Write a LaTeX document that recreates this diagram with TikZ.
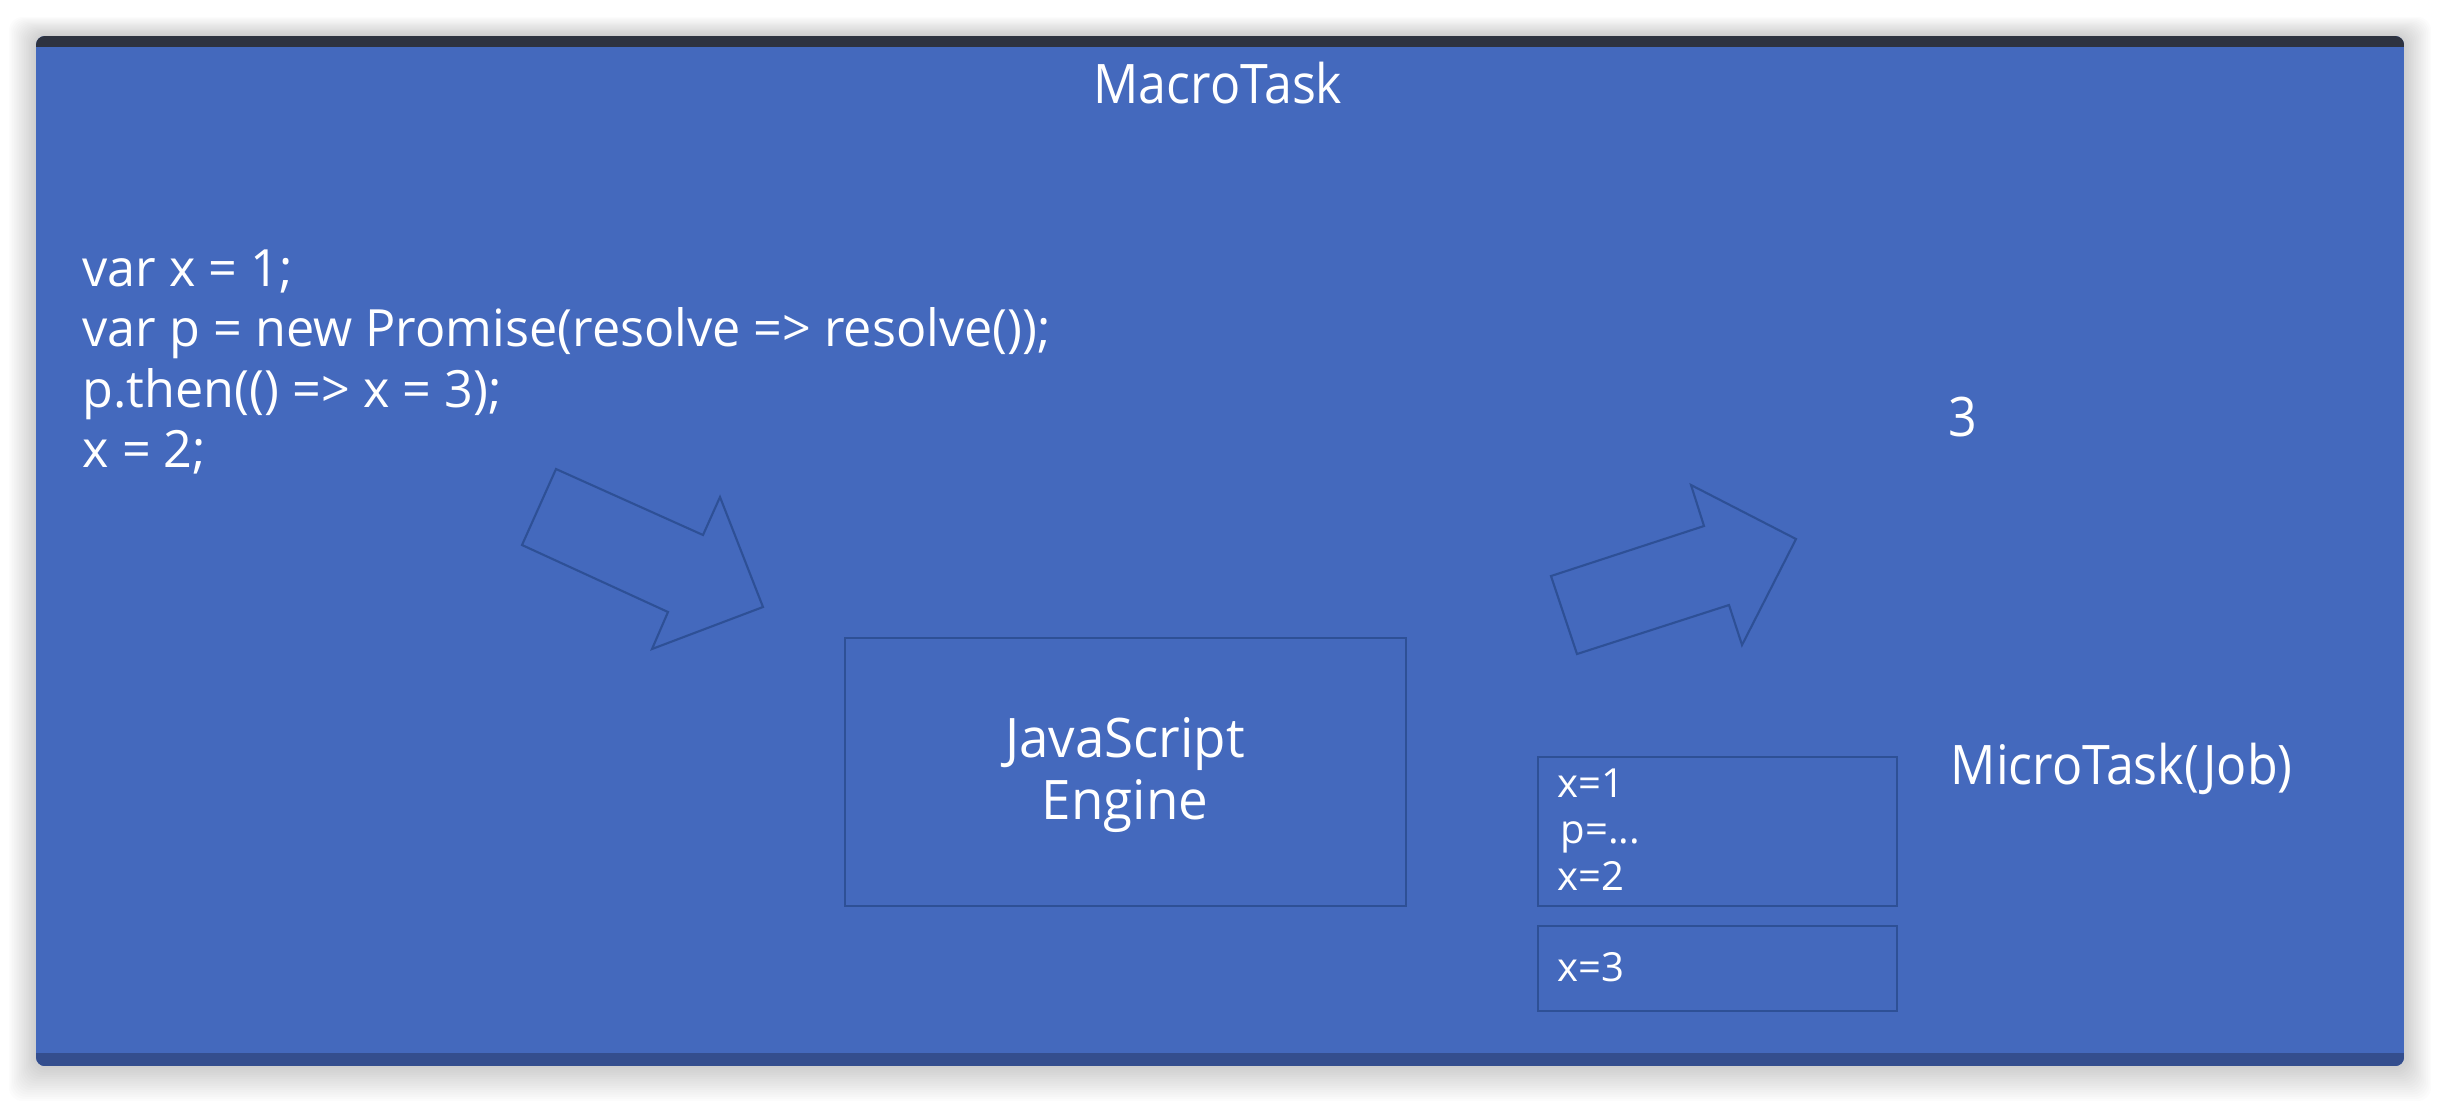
\documentclass[tikz,border=0pt]{standalone}
\usepackage{fontspec}
\setmainfont{Open Sans}
\newfontfamily\codefont[FakeStretch=0.98]{Open Sans}
\newfontfamily\lblfont[FakeStretch=0.92]{Open Sans}
\newfontfamily\engfont[FakeStretch=0.97]{Open Sans}
\newfontfamily\smallfont[FakeStretch=1.0]{Open Sans}
\definecolor{slide}{RGB}{68,105,189}
\definecolor{bandtop}{RGB}{46,51,64}
\definecolor{bandbot}{RGB}{52,78,142}
\definecolor{edge}{RGB}{46,80,150}
\begin{document}
\begin{tikzpicture}[x=0.01cm,y=-0.01cm,
  big/.style={text=white, inner sep=0pt, font=\lblfont\fontsize{15.5}{18}\selectfont},
  engtext/.style={text=white, inner sep=0pt, anchor=base, font=\engfont\fontsize{15.5}{18}\selectfont},
  codeline/.style={text=white, inner sep=0pt, anchor=base west, font=\codefont\fontsize{14.6}{17}\selectfont},
  small/.style={text=white, inner sep=0pt, anchor=base west, font=\smallfont\fontsize{11.4}{13}\selectfont},
  outline/.style={draw=edge, line width=0.6pt},
  blockarrow/.style={draw=edge, line width=0.6pt, line join=miter}]
\useasboundingbox (0,0) rectangle (2440,1102);
\fill[white] (0,0) rectangle (2440,1102);
% soft shadow
\foreach \i in {1,...,16}{
  \fill[black, opacity=0.013, rounded corners=4pt] (36-1.7*\i,36-1.2*\i) rectangle (2404+1.7*\i,1066+2.2*\i);
}
% slide
\begin{scope}
  \clip[rounded corners=2.5pt] (36,36) rectangle (2404,1066);
  \fill[slide] (36,36) rectangle (2404,1066);
  \fill[bandtop] (36,36) rectangle (2404,47);
  \fill[bandbot] (36,1053) rectangle (2404,1066);
\end{scope}
% title
\node[big, anchor=base] (macro) at (1218,103) {MacroTask};
% code
\node[codeline] (c1) at (82,286) {var x = 1;};
\node[codeline] (c2) at (82,346) {var p = new Promise(resolve => resolve());};
\node[codeline] (c3) at (82,407) {p.then(() => x = 3);};
\node[codeline] (c4) at (82,467) {x = 2;};
% block arrows
\draw[blockarrow] (556,469) -- (703,535) -- (720,497) -- (763,607) -- (652,649) -- (668,612) -- (522,545) -- cycle;
\draw[blockarrow] (1551,576) -- (1704,526) -- (1691,485) -- (1796,539) -- (1742,645) -- (1729,605) -- (1577,654) -- cycle;
% engine
\node[outline, inner sep=0pt, minimum width=5.61cm, minimum height=2.68cm] (engine) at (1125.5,772) {};
\node[engtext] (eng1) at (1125,757) {JavaScript};
\node[engtext] (eng2) at (1125,819) {Engine};
% micro task boxes
\node[outline, inner sep=0pt, minimum width=3.59cm, minimum height=1.49cm] (stack) at (1717.5,831.5) {};
\node[outline, inner sep=0pt, minimum width=3.59cm, minimum height=0.85cm] (queue) at (1717.5,968.5) {};
\node[small] (s1) at (1557,797) {x=1};
\node[small] (s2) at (1560,843) {p=...};
\node[small] (s3) at (1557,890) {x=2};
\node[small] (q1) at (1557,981) {x=3};
% right labels
\node[big, anchor=base west] (three) at (1948,436) {3};
\node[big, anchor=base west] (micro) at (1950,784) {MicroTask(Job)};
\end{tikzpicture}
\end{document}
